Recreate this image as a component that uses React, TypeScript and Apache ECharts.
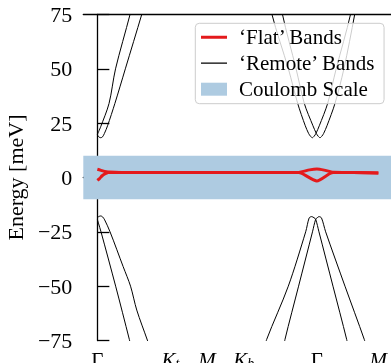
import React, { useEffect, useRef } from "react";
import * as echarts from "echarts";

// ---- axis / tick data ----
const xTicks = [0, 2, 3, 4, 6, 7.68];
const xTickLabels = ["Γ", "{i|K}{s|t}", "{i|M}", "{i|K}{s|b}", "Γ", "{i|M}"];
const yMin = -75;
const yMax = 75;
const yStep = 25;
const coulombScale = [-10, 10];

// ---- 'Flat' bands (meV) ----
const flatUpper = [
  [0, 3.8], [0.1, 3.3], [0.2, 2.8], [0.35, 2.4], [1, 2.3], [2, 2.3], [3, 2.3], [4, 2.3],
  [5, 2.3], [5.45, 2.3], [5.6, 2.7], [5.8, 3.5], [6.0, 3.9], [6.2, 3.4], [6.45, 2.4],
  [7, 2.3], [7.68, 2.1],
];
const flatLower = [
  [0, -1.3], [0.06, -0.5], [0.13, 0.8], [0.22, 1.8], [0.35, 2.4], [1, 2.3], [2, 2.3],
  [3, 2.3], [4, 2.3], [5, 2.3], [5.5, 2.3], [5.59, 1.9], [6.0, -1.6], [6.36, 1.9],
  [6.45, 2.3], [7, 2.3], [7.68, 2.1],
];

// ---- 'Remote' bands near first Γ ----
const condA1 = [[0, 19.8], [0.09, 23.3], [0.32, 34.1], [0.497, 50], [0.893, 75], [1.0, 83]];
const condB1 = [
  [0, 19.6], [0.046, 18.6], [0.093, 18.3], [0.142, 18.7], [0.194, 20.3], [0.279, 23.8],
  [0.48, 34.1], [0.765, 50], [1.213, 75], [1.35, 83],
];
const valA1 = [[0, -19.3], [0.03, -21], [0.1, -25], [0.5, -50], [0.874, -74.5], [0.95, -80]];
const valB1 = [
  [0, -18.5], [0.046, -17.9], [0.093, -17.7], [0.142, -18.1], [0.2, -19.5], [0.347, -25],
  [0.705, -41], [0.907, -50], [1.077, -61], [1.366, -74.8], [1.45, -79],
];

// ---- 'Remote' bands near second Γ ----
const condA2 = [
  [4.7, 85], [4.773, 75], [5.221, 50], [5.475, 34.1], [5.683, 23.8], [5.773, 20.3],
  [5.825, 19.0], [5.874, 18.3], [5.925, 19.0], [5.975, 20.3], [6.066, 23.8], [6.295, 34.1],
  [6.527, 50], [6.918, 75], [6.99, 85],
];
const condB2 = [
  [4.99, 85], [5.06, 75], [5.432, 50], [5.656, 34.1], [5.893, 23.8], [5.984, 20.3],
  [6.035, 19.0], [6.085, 18.3], [6.135, 19.0], [6.186, 20.3], [6.276, 23.8], [6.495, 34.1],
  [6.738, 50], [7.033, 75], [7.07, 80],
];
const valA2 = [
  [4.57, -79], [4.628, -74.5], [5.219, -50], [5.694, -25], [5.789, -18.6], [5.858, -18],
  [5.921, -18.5], [5.967, -19.2], [6.057, -25], [6.44, -50], [6.814, -74.5], [6.85, -78],
];
const valB2 = [
  [5.1, -78], [5.128, -74.5], [5.5, -50], [5.88, -25], [5.967, -19.2], [6.011, -18.5],
  [6.057, -18], [6.126, -18.6], [6.24, -25], [6.768, -50], [7.295, -74.5], [7.35, -78],
];

const FLAT = "‘Flat’ Bands";
const REMOTE = "‘Remote’ Bands";
const COULOMB = "Coulomb Scale";
const RED = "#e41a1c";
const BLUE = "#aecbe1";
const FONT = '"Liberation Serif", "Times New Roman", serif';

// legend handle shapes (thin bar centred in a 26x13 box)
const thickBar = "path://M0,0h0.01v0.01h-0.01zM0,5h26v3h-26zM25.99,12.99h0.01v0.01h-0.01z";
const thinBar = "path://M0,0h0.01v0.01h-0.01zM0,5.85h26v1.3h-26zM25.99,12.99h0.01v0.01h-0.01z";

export default function App() {
  const ref = useRef<HTMLDivElement>(null);
  useEffect(() => {
    if (!ref.current) return;
    const chart = echarts.init(ref.current, null, { renderer: "svg" });
    const xMax = xTicks[xTicks.length - 1];
    const pad = xMax * 0.05;
    const remote = (data: number[][]) => ({
      type: "line",
      name: REMOTE,
      data,
      symbol: "none",
      showSymbol: false,
      smooth: 0.3,
      silent: true,
      clip: true,
      z: 3,
      lineStyle: { color: "#000", width: 1 },
      itemStyle: { color: "#000" },
    });
    const flat = (data: number[][]) => ({
      type: "line",
      name: FLAT,
      data,
      symbol: "none",
      showSymbol: false,
      smooth: 0.2,
      silent: true,
      clip: true,
      z: 4,
      lineStyle: { color: RED, width: 3 },
      itemStyle: { color: RED },
    });
    const labelFmt = (v: number) => {
      let best = 0;
      xTicks.forEach((t, i) => {
        if (Math.abs(t - v) < Math.abs(xTicks[best] - v)) best = i;
      });
      return xTickLabels[best];
    };
    const option: any = {
      animation: false,
      grid: { left: 83.3, top: 14.5, width: 309.1, height: 326, outerBoundsMode: "none" },
      legend: {
        orient: "vertical",
        left: 195.3,
        top: 23.3,
        data: [
          { name: FLAT, icon: thickBar, itemStyle: { color: RED } },
          { name: REMOTE, icon: thinBar, itemStyle: { color: "#000" } },
          { name: COULOMB, icon: "rect", itemStyle: { color: BLUE } },
        ],
        itemWidth: 26,
        itemHeight: 13,
        itemGap: 5,
        padding: [3.4, 8, 4, 5.7],
        backgroundColor: "rgba(255,255,255,0.8)",
        borderColor: "#cccccc",
        borderWidth: 1,
        borderRadius: 4,
        selectedMode: false,
        textStyle: {
          fontFamily: FONT,
          fontSize: 21,
          color: "#000",
          lineHeight: 20,
          width: 137,
          padding: [0, 0, 0, 7],
        },
      },
      xAxis: [
        {
          type: "value",
          min: -pad,
          max: xMax + pad,
          axisLine: { show: true, lineStyle: { color: "#000", width: 1.3 } },
          axisTick: {
            show: true,
            inside: true,
            length: 9,
            customValues: xTicks,
            lineStyle: { color: "#000", width: 1.3 },
          },
          axisLabel: {
            customValues: xTicks,
            formatter: labelFmt,
            margin: 9,
            color: "#000",
            fontFamily: FONT,
            fontSize: 21,
            rich: {
              i: { fontFamily: FONT, fontSize: 21, fontStyle: "italic", color: "#000" },
              s: {
                fontFamily: FONT,
                fontSize: 14,
                fontStyle: "italic",
                color: "#000",
                verticalAlign: "bottom",
              },
            },
          },
          splitLine: { show: false },
        },
        {
          type: "value",
          position: "top",
          min: -pad,
          max: xMax + pad,
          axisLine: { show: true, lineStyle: { color: "#000", width: 1.3 } },
          axisTick: { show: false },
          axisLabel: { show: false },
          splitLine: { show: false },
        },
      ],
      yAxis: {
        type: "value",
        min: yMin,
        max: yMax,
        interval: yStep,
        name: "Energy [meV]",
        nameLocation: "middle",
        nameGap: 47,
        nameTextStyle: { fontFamily: FONT, fontSize: 22, color: "#000" },
        axisLine: { show: true, lineStyle: { color: "#000", width: 1.3 } },
        axisTick: { show: true, inside: true, length: 12, lineStyle: { color: "#000", width: 1.3 } },
        axisLabel: {
          margin: 11,
          color: "#000",
          fontFamily: FONT,
          fontSize: 22,
          formatter: (v: number) => (v < 0 ? "−" + Math.abs(v) : String(v)),
        },
        splitLine: { show: false },
      },
      series: [
        {
          type: "line",
          name: COULOMB,
          data: [],
          z: 1,
          silent: true,
          itemStyle: { color: BLUE },
          lineStyle: { color: BLUE },
          markArea: {
            silent: true,
            itemStyle: { color: BLUE, opacity: 1 },
            data: [[{ yAxis: coulombScale[0] }, { yAxis: coulombScale[1] }]],
          },
        },
        remote(condA1),
        remote(condB1),
        remote(valA1),
        remote(valB1),
        remote(condA2),
        remote(condB2),
        remote(valA2),
        remote(valB2),
        flat(flatUpper),
        flat(flatLower),
      ],
    };
    chart.setOption(option);
    return () => chart.dispose();
  }, []);
  return (
    <div
      ref={ref}
      style={{ position: "fixed", left: 0, top: 0, width: 391, height: 363 }}
    />
  );
}
